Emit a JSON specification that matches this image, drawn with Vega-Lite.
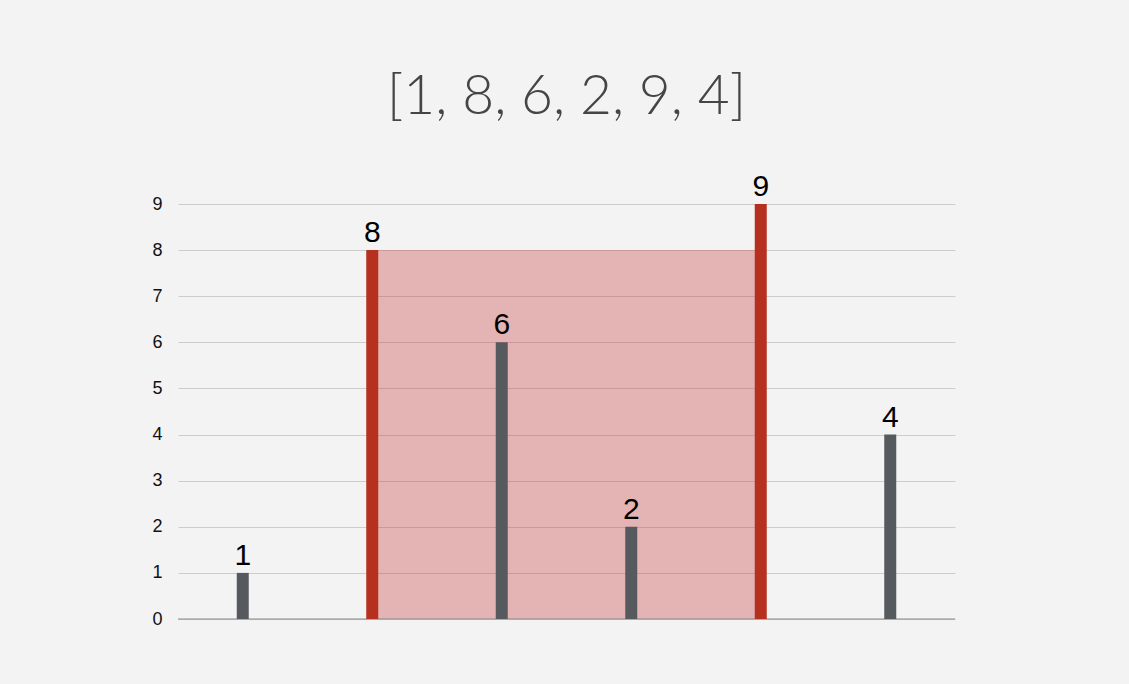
{
  "$schema": "https://vega.github.io/schema/vega-lite/v6.json",
  "width": 777,
  "height": 415,
  "autosize": {"type": "none"},
  "padding": {"left": 178, "top": 204, "right": 174, "bottom": 65},
  "background": "#f3f3f3",
  "config": {"view": {"stroke": null}, "font": "Liberation Sans"},
  "title": {
    "text": "[1, 8, 6, 2, 9, 4]",
    "fontSize": 55,
    "font": "Lato",
    "fontWeight": 300,
    "color": "#454545",
    "anchor": "middle",
    "offset": 46
  },
  "datasets": {
    "heights": [
      {"i": 1, "h": 1},
      {"i": 2, "h": 8},
      {"i": 3, "h": 6},
      {"i": 4, "h": 2},
      {"i": 5, "h": 9},
      {"i": 6, "h": 4}
    ],
    "water": [{"left": 2, "right": 5, "level": 8}]
  },
  "layer": [
    {
      "data": {"name": "water"},
      "mark": {"type": "rect", "color": "#c83c3c", "opacity": 0.34},
      "encoding": {
        "x": {"field": "left", "type": "quantitative", "scale": {"domain": [0.5, 6.5], "nice": false, "zero": false, "padding": 0}, "axis": null},
        "x2": {"field": "right"},
        "y": {
          "field": "level",
          "type": "quantitative",
          "scale": {"domain": [0, 9], "nice": false},
          "axis": {
            "values": [0, 1, 2, 3, 4, 5, 6, 7, 8, 9],
            "grid": true,
            "gridColor": "#cccccc",
            "domain": false,
            "ticks": false,
            "labelPadding": 16,
            "labelFontSize": 18,
            "labelColor": "#111111",
            "title": null
          }
        },
        "y2": {"datum": 0}
      }
    },
    {
      "data": {"name": "water"},
      "mark": {"type": "rule", "color": "#888888", "strokeWidth": 1},
      "encoding": {"y": {"datum": 0, "type": "quantitative"}}
    },
    {
      "data": {"name": "heights"},
      "mark": {"type": "bar", "size": 12},
      "encoding": {
        "x": {"field": "i", "type": "quantitative"},
        "y": {"field": "h", "type": "quantitative"},
        "color": {
          "condition": {"test": "datum.i == 2 || datum.i == 5", "value": "#b5301f"},
          "value": "#565a5f"
        }
      }
    },
    {
      "data": {"name": "heights"},
      "mark": {"type": "text", "fontSize": 30, "color": "#000000", "baseline": "bottom", "dy": -2},
      "encoding": {
        "x": {"field": "i", "type": "quantitative"},
        "y": {"field": "h", "type": "quantitative"},
        "text": {"field": "h", "type": "quantitative"}
      }
    }
  ]
}
